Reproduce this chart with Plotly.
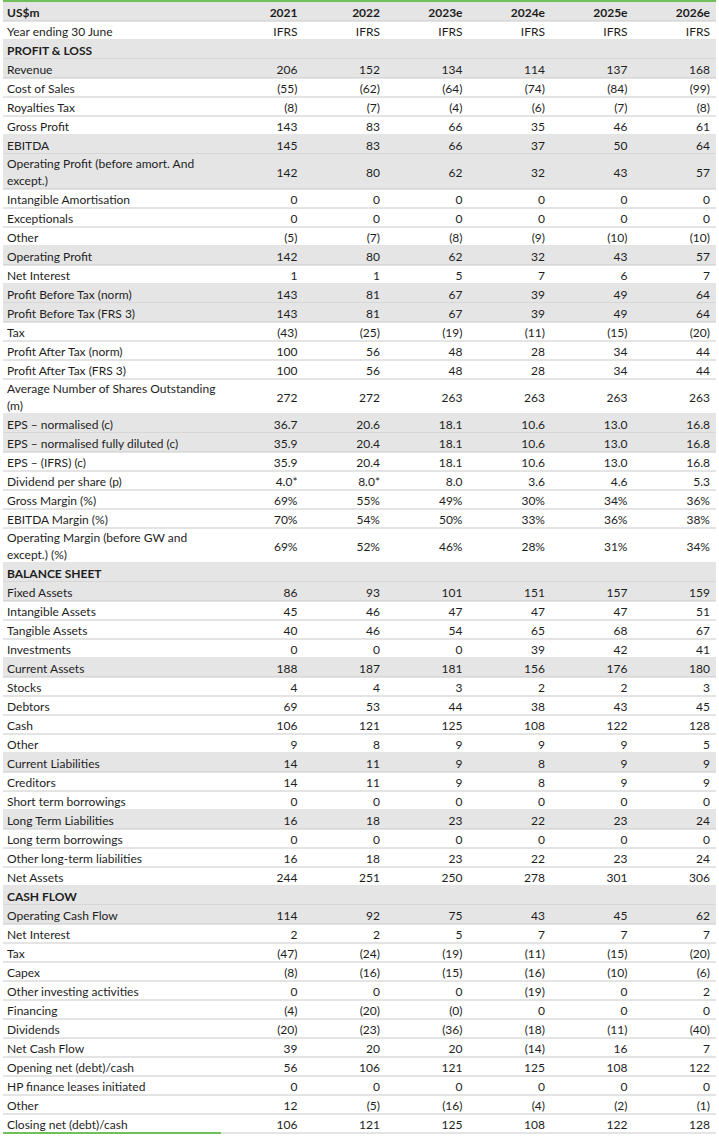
import plotly.graph_objects as go

# table content, as printed
years = ['2021', '2022', '2023e', '2024e', '2025e', '2026e']

labels = [
    'US$m', 'Year ending 30 June', 'PROFIT & LOSS', 'Revenue', 'Cost of Sales', 'Royalties Tax',
    'Gross Profit', 'EBITDA', 'Operating Profit (before amort. And\nexcept.)', 'Intangible Amortisation',
    'Exceptionals', 'Other', 'Operating Profit', 'Net Interest', 'Profit Before Tax (norm)',
    'Profit Before Tax (FRS 3)', 'Tax', 'Profit After Tax (norm)', 'Profit After Tax (FRS 3)',
    'Average Number of Shares Outstanding\n(m)', 'EPS \u2013 normalised (c)',
    'EPS \u2013 normalised fully diluted (c)', 'EPS \u2013 (IFRS) (c)', 'Dividend per share (p)',
    'Gross Margin (%)', 'EBITDA Margin (%)', 'Operating Margin (before GW and\nexcept.) (%)',
    'BALANCE SHEET', 'Fixed Assets', 'Intangible Assets', 'Tangible Assets', 'Investments',
    'Current Assets', 'Stocks', 'Debtors', 'Cash', 'Other', 'Current Liabilities', 'Creditors',
    'Short term borrowings', 'Long Term Liabilities', 'Long term borrowings',
    'Other long-term liabilities', 'Net Assets', 'CASH FLOW', 'Operating Cash Flow', 'Net Interest',
    'Tax', 'Capex', 'Other investing activities', 'Financing', 'Dividends', 'Net Cash Flow',
    'Opening net (debt)/cash', 'HP finance leases initiated', 'Other', 'Closing net (debt)/cash',
]

v2021 = ['IFRS', '', '206', '(55)', '(8)', '143', '145', '142', '0', '0', '(5)', '142', '1', '143', '143',
         '(43)', '100', '100', '272', '36.7', '35.9', '35.9', '4.0*', '69%', '70%', '69%', '',
         '86', '45', '40', '0', '188', '4', '69', '106', '9', '14', '14', '0', '16', '0', '16', '244', '',
         '114', '2', '(47)', '(8)', '0', '(4)', '(20)', '39', '56', '0', '12', '106']
v2022 = ['IFRS', '', '152', '(62)', '(7)', '83', '83', '80', '0', '0', '(7)', '80', '1', '81', '81',
         '(25)', '56', '56', '272', '20.6', '20.4', '20.4', '8.0*', '55%', '54%', '52%', '',
         '93', '46', '46', '0', '187', '4', '53', '121', '8', '11', '11', '0', '18', '0', '18', '251', '',
         '92', '2', '(24)', '(16)', '0', '(20)', '(23)', '20', '106', '0', '(5)', '121']
v2023 = ['IFRS', '', '134', '(64)', '(4)', '66', '66', '62', '0', '0', '(8)', '62', '5', '67', '67',
         '(19)', '48', '48', '263', '18.1', '18.1', '18.1', '8.0', '49%', '50%', '46%', '',
         '101', '47', '54', '0', '181', '3', '44', '125', '9', '9', '9', '0', '23', '0', '23', '250', '',
         '75', '5', '(19)', '(15)', '0', '(0)', '(36)', '20', '121', '0', '(16)', '125']
v2024 = ['IFRS', '', '114', '(74)', '(6)', '35', '37', '32', '0', '0', '(9)', '32', '7', '39', '39',
         '(11)', '28', '28', '263', '10.6', '10.6', '10.6', '3.6', '30%', '33%', '28%', '',
         '151', '47', '65', '39', '156', '2', '38', '108', '9', '8', '8', '0', '22', '0', '22', '278', '',
         '43', '7', '(11)', '(16)', '(19)', '0', '(18)', '(14)', '125', '0', '(4)', '108']
v2025 = ['IFRS', '', '137', '(84)', '(7)', '46', '50', '43', '0', '0', '(10)', '43', '6', '49', '49',
         '(15)', '34', '34', '263', '13.0', '13.0', '13.0', '4.6', '34%', '36%', '31%', '',
         '157', '47', '68', '42', '176', '2', '43', '122', '9', '9', '9', '0', '23', '0', '23', '301', '',
         '45', '7', '(15)', '(10)', '0', '0', '(11)', '16', '108', '0', '(2)', '122']
v2026 = ['IFRS', '', '168', '(99)', '(8)', '61', '64', '57', '0', '0', '(10)', '57', '7', '64', '64',
         '(20)', '44', '44', '263', '16.8', '16.8', '16.8', '5.3', '36%', '38%', '34%', '',
         '159', '51', '67', '41', '180', '3', '45', '128', '5', '9', '9', '0', '24', '0', '24', '306', '',
         '62', '7', '(20)', '(6)', '2', '0', '(40)', '7', '122', '0', '(1)', '128']

# first row is the year header, the value lists start at row 2
columns = [[y] + v for y, v in zip(years, [v2021, v2022, v2023, v2024, v2025, v2026])]

# rows shaded grey / set in bold (0-based)
shaded = {0, 2, 3, 7, 8, 12, 14, 15, 20, 21, 27, 28, 32, 37, 40, 44, 45}
bold = {0, 2, 27, 44}

# geometry (px)
W, H = 719, 1136
left, right, top = 3, 716, 2
row_h, row_h2 = 19, 35
col_w = 82.5
pad = 6
text_dy = 2  # nudge text down to sit like the reference
label_w = right - left - len(years) * col_w

GREY = '#e5e5e5'
RULE = '#c9c9c9'
GREEN = '#70bf5b'
TXT = '#1e1e1e'
FONT = 'Lato'
FS = 12

heights = [row_h2 if '\n' in s else row_h for s in labels]
tops = [top]
for h in heights[:-1]:
    tops.append(tops[-1] + h)
mids = [t + h / 2 + text_dy for t, h in zip(tops, heights)]

shapes = []
for i, (t, h) in enumerate(zip(tops, heights)):
    if i in shaded:
        shapes.append(dict(type='rect', xref='x', yref='y', x0=left, x1=right, y0=t, y1=t + h,
                           fillcolor=GREY, line_width=0, layer='below'))
    shapes.append(dict(type='line', xref='x', yref='y', x0=left, x1=right, y0=t + h, y1=t + h,
                       line=dict(color=RULE, width=1), layer='below'))
# green rules: top of table, bottom of label column
shapes.append(dict(type='line', xref='x', yref='y', x0=left, x1=right, y0=top - 1, y1=top - 1,
                   line=dict(color=GREEN, width=2)))
bottom = tops[-1] + heights[-1]
shapes.append(dict(type='line', xref='x', yref='y', x0=left, x1=left + label_w, y0=bottom, y1=bottom,
                   line=dict(color=GREEN, width=2)))

fig = go.Figure()

# labels, split wrapped ones into two text lines
lx, ly, lt = [], [], []
for i, s in enumerate(labels):
    parts = s.split('\n')
    off = [0] if len(parts) == 1 else [-8.5, 8.5]
    for p, o in zip(parts, off):
        lx.append(left + 4)
        ly.append(mids[i] + o)
        lt.append(f'<b>{p}</b>' if i in bold else p)
fig.add_trace(go.Scatter(x=lx, y=ly, text=lt, mode='text', textposition='middle right',
                         textfont=dict(family=FONT, size=FS, color=TXT), hoverinfo='skip',
                         cliponaxis=False))

for k, col in enumerate(columns):
    xr = left + label_w + (k + 1) * col_w - pad
    txt = [f'<b>{s}</b>' if i in bold else s for i, s in enumerate(col)]
    fig.add_trace(go.Scatter(x=[xr] * len(col), y=mids, text=txt, mode='text',
                             textposition='middle left',
                             textfont=dict(family=FONT, size=FS, color=TXT), hoverinfo='skip',
                             cliponaxis=False))

fig.update_layout(
    width=W, height=H,
    margin=dict(l=0, r=0, t=0, b=0),
    paper_bgcolor='white', plot_bgcolor='white',
    showlegend=False,
    shapes=shapes,
    xaxis=dict(range=[0, W], visible=False, fixedrange=True),
    yaxis=dict(range=[H, 0], visible=False, fixedrange=True),
)

# drop the page's default 8px body margin so the table starts at the corner
fig.write_html('out.html', post_script="document.body.style.margin = '0';",
               config={'displayModeBar': False})
